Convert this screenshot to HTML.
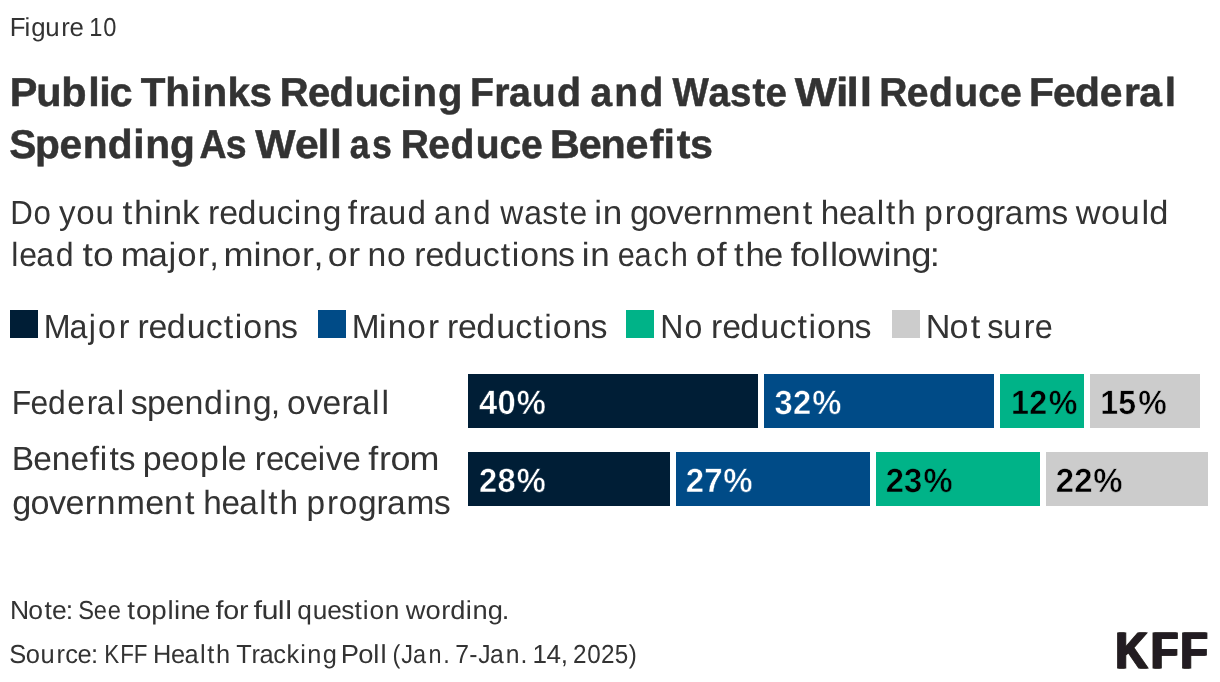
<!DOCTYPE html>
<html lang="en"><head><meta charset="utf-8"><title>Public Thinks Reducing Fraud and Waste Will Reduce Federal Spending As Well as Reduce Benefits</title>
<style>
html,body{margin:0;padding:0;background:#fff}
body{width:1220px;height:682px;position:relative;overflow:hidden;font-family:"Liberation Sans",sans-serif;color:#333}
.b{position:absolute}
svg{position:absolute;left:0;top:0;display:block}
text{font-family:"Liberation Sans",sans-serif;white-space:pre;text-rendering:geometricPrecision}
</style></head><body>
<div class="b" style="left:10px;top:310px;width:28px;height:28px;background:#001e36"></div>
<div class="b" style="left:318px;top:310px;width:28px;height:28px;background:#004b87"></div>
<div class="b" style="left:626px;top:310px;width:28px;height:28px;background:#00b388"></div>
<div class="b" style="left:892px;top:310px;width:28px;height:28px;background:#cccccc"></div>
<div class="b" style="left:468px;top:374px;width:290px;height:54px;background:#001e36"></div>
<div class="b" style="left:764px;top:374px;width:230px;height:54px;background:#004b87"></div>
<div class="b" style="left:1000px;top:374px;width:84px;height:54px;background:#00b388"></div>
<div class="b" style="left:1090px;top:374px;width:110px;height:54px;background:#cccccc"></div>
<div class="b" style="left:468px;top:452px;width:202px;height:54px;background:#001e36"></div>
<div class="b" style="left:676px;top:452px;width:194px;height:54px;background:#004b87"></div>
<div class="b" style="left:876px;top:452px;width:164px;height:54px;background:#00b388"></div>
<div class="b" style="left:1046px;top:452px;width:162px;height:54px;background:#cccccc"></div>
<svg width="1220" height="682" viewBox="0 0 1220 682">
<g font-size="26.04" font-weight="400" fill="#333333">
<text transform="translate(9.67 35.8) scale(0.9917 1)" x="0.00 15.07 21.86 35.82 51.93 60.37">Figure</text>
<text transform="translate(89.35 35.8) scale(0.9093 1)" x="0.00 15.35">10</text>
</g>
<g font-size="40.26" font-weight="700" fill="#333333" stroke="#333333" stroke-width="0.5">
<text transform="translate(9.84 105.8) scale(1.0292 1)" x="0.00 25.69 49.92 76.08 86.95 96.81">Public</text>
<text transform="translate(140.81 105.8) scale(1.0040 1)" x="0.00 24.30 49.61 61.50 86.26 108.24">Thinks</text>
<text transform="translate(279.69 105.8) scale(0.9953 1)" x="0.00 28.35 50.02 75.30 99.39 121.38 133.42 159.10">Reducing</text>
<text transform="translate(469.88 105.8) scale(0.9758 1)" x="0.00 24.87 40.00 63.35 89.24">Fraud</text>
<text transform="translate(590.42 105.8) scale(0.9659 1)" x="0.00 24.56 50.80">and</text>
<text transform="translate(672.46 105.8) scale(0.9562 1)" x="0.00 37.63 60.20 83.74 97.34">Waste</text>
<text transform="translate(794.79 105.8) scale(1.1073 1)" x="0.00 37.14 46.68 58.74">Will</text>
<text transform="translate(879.23 105.8) scale(0.9704 1)" x="0.00 28.35 51.38 77.31 102.00 124.33">Reduce</text>
<text transform="translate(1029.10 105.8) scale(1.0140 1)" x="0.00 23.68 45.16 69.76 93.52 108.74 133.90">Federal</text>
</g>
<g font-size="40.26" font-weight="700" fill="#333333" stroke="#333333" stroke-width="0.5">
<text transform="translate(9.23 157.9) scale(1.0105 1)" x="0.00 25.59 49.87 72.66 97.50 122.77 134.53 159.11">Spending</text>
<text transform="translate(199.46 157.9) scale(0.9304 1)" x="0.00 28.33">As</text>
<text transform="translate(255.17 157.9) scale(1.0618 1)" x="0.00 37.52 58.65 70.55">Well</text>
<text transform="translate(349.81 157.9) scale(0.8857 1)" x="0.00 25.18">as</text>
<text transform="translate(400.63 157.9) scale(0.9704 1)" x="0.00 28.35 51.38 77.31 102.00 124.00">Reduce</text>
<text transform="translate(549.93 157.9) scale(1.0258 1)" x="0.00 28.05 49.28 73.60 97.28 110.79 123.67 136.51">Benefits</text>
</g>
<g font-size="33.48" font-weight="400" fill="#333333">
<text transform="translate(10.30 224) scale(0.9339 1)" x="0.00 24.92">Do</text>
<text transform="translate(59.09 224) scale(0.9883 1)" x="0.00 17.33 36.84">you</text>
<text transform="translate(122.62 224) scale(1.0554 1)" x="0.00 10.83 29.80 37.82 56.35">think</text>
<text transform="translate(208.12 224) scale(1.0160 1)" x="0.00 10.98 28.83 48.45 67.31 84.28 92.83 112.53">reducing</text>
<text transform="translate(347.86 224) scale(0.9915 1)" x="0.00 10.87 21.42 40.26 60.14">fraud</text>
<text transform="translate(434.05 224) scale(0.9263 1)" x="0.00 21.02 42.41">and</text>
<text transform="translate(500.24 224) scale(0.9525 1)" x="0.00 25.09 44.24 62.31 72.70">waste</text>
<text transform="translate(594.16 224) scale(1.0460 1)" x="0.00 8.15">in</text>
<text transform="translate(629.96 224) scale(1.0209 1)" x="0.00 17.65 35.81 52.09 70.94 82.39 102.04 130.11 148.41 169.21">government</text>
<text transform="translate(820.73 224) scale(0.9960 1)" x="0.00 18.40 36.15 56.35 65.45 76.71">health</text>
<text transform="translate(924.19 224) scale(0.9982 1)" x="0.00 20.52 32.13 51.60 70.04 80.60 99.97 127.59">programs</text>
<text transform="translate(1075.70 224) scale(1.0287 1)" x="0.00 24.66 43.44 63.85 71.40">would</text>
</g>
<g font-size="33.48" font-weight="400" fill="#333333">
<text transform="translate(11.30 266) scale(0.9578 1)" x="0.00 8.31 26.06 46.37">lead</text>
<text transform="translate(82.50 266) scale(1.1131 1)" x="0.00 9.51">to</text>
<text transform="translate(120.69 266) scale(1.0394 1)" x="0.00 26.80 45.96 54.39 74.15 85.19">major,</text>
<text transform="translate(223.52 266) scale(1.0783 1)" x="0.00 27.80 35.54 53.64 72.79 83.47">minor,</text>
<text transform="translate(327.73 266) scale(1.0694 1)" x="0.00 19.29">or</text>
<text transform="translate(367.59 266) scale(1.0065 1)" x="0.00 19.40">no</text>
<text transform="translate(414.35 266) scale(1.0132 1)" x="0.00 11.03 28.93 48.60 67.50 85.31 96.17 104.59 123.98 141.67">reductions</text>
<text transform="translate(581.79 266) scale(1.0460 1)" x="0.00 8.15">in</text>
<text transform="translate(617.67 266) scale(0.9186 1)" x="0.00 18.43 38.88 57.78">each</text>
<text transform="translate(695.82 266) scale(1.0866 1)" x="0.00 19.05">of</text>
<text transform="translate(733.92 266) scale(1.0361 1)" x="0.00 11.16 28.97">the</text>
<text transform="translate(790.43 266) scale(1.0859 1)" x="0.00 8.89 28.03 36.48 43.34 61.55 85.75 93.39 111.34 128.39">following:</text>
</g>
<g font-size="33.48" font-weight="400" fill="#333333">
<text transform="translate(43.87 338) scale(0.9624 1)" x="0.00 26.64 46.59 56.26 77.78">Major</text>
<text transform="translate(137.40 338) scale(1.0132 1)" x="0.00 11.03 28.93 48.60 67.50 85.31 96.17 104.59 123.98 141.67">reductions</text>
</g>
<g font-size="33.48" font-weight="400" fill="#333333">
<text transform="translate(351.84 338) scale(0.9967 1)" x="0.00 27.14 35.96 55.55 76.36">Minor</text>
<text transform="translate(446.91 338) scale(1.0132 1)" x="0.00 11.03 28.93 48.60 67.50 85.31 96.17 104.59 123.98 141.67">reductions</text>
</g>
<g font-size="33.48" font-weight="400" fill="#333333">
<text transform="translate(660.32 338) scale(0.9577 1)" x="0.00 25.15">No</text>
<text transform="translate(710.99 338) scale(1.0132 1)" x="0.00 11.03 28.93 48.60 67.50 85.31 96.17 104.59 123.98 141.67">reductions</text>
</g>
<g font-size="33.48" font-weight="400" fill="#333333">
<text transform="translate(925.86 338) scale(1.0206 1)" x="0.00 23.22 44.01">Not</text>
<text transform="translate(987.34 338) scale(0.9700 1)" x="0.00 16.45 37.55 48.80">sure</text>
</g>
<g font-size="33.48" font-weight="400" fill="#333333">
<text transform="translate(11.75 413.7) scale(0.9512 1)" x="0.00 19.62 38.12 58.48 78.73 89.29 110.77">Federal</text>
<text transform="translate(130.73 413.7) scale(1.0158 1)" x="0.00 16.01 34.57 52.97 72.17 92.19 100.74 120.24 137.74">spending,</text>
<text transform="translate(286.90 413.7) scale(1.0077 1)" x="0.00 19.03 35.33 54.08 64.64 84.35 93.93">overall</text>
</g>
<g font-size="33.48" font-weight="400" fill="#333333">
<text transform="translate(11.84 470) scale(1.0017 1)" x="0.00 21.37 39.73 58.56 77.85 87.71 97.38 106.81">Benefits</text>
<text transform="translate(142.73 470) scale(1.0142 1)" x="0.00 18.60 36.86 56.55 77.05 83.93">people</text>
<text transform="translate(254.63 470) scale(0.9844 1)" x="0.00 11.49 29.42 45.94 64.14 72.54 89.23">receive</text>
<text transform="translate(368.24 470) scale(1.0728 1)" x="0.00 10.05 20.65 38.54">from</text>
</g>
<g font-size="33.48" font-weight="400" fill="#333333">
<text transform="translate(12.37 514) scale(1.0209 1)" x="0.00 17.65 35.81 52.09 70.94 82.39 102.04 130.11 148.41 169.21">government</text>
<text transform="translate(203.14 514) scale(0.9960 1)" x="0.00 18.40 36.15 56.35 65.45 76.71">health</text>
<text transform="translate(306.60 514) scale(0.9982 1)" x="0.00 20.52 32.13 51.60 70.04 80.60 99.97 127.59">programs</text>
</g>
<g font-size="33.66" font-weight="700" fill="#ffffff" stroke="#001e36" stroke-width="0.5">
<text transform="translate(479.00 414) scale(0.9726 1)" x="0.00 19.14 38.78">40%</text>
</g>
<g font-size="33.66" font-weight="700" fill="#ffffff" stroke="#004b87" stroke-width="0.5">
<text transform="translate(774.49 414) scale(0.9734 1)" x="0.00 19.01 38.74">32%</text>
</g>
<g font-size="33.66" font-weight="700" fill="#000000" stroke="#00b388" stroke-width="0.5">
<text transform="translate(1011.03 414) scale(0.9569 1)" x="0.00 19.15 39.43">12%</text>
</g>
<g font-size="33.66" font-weight="700" fill="#000000" stroke="#cccccc" stroke-width="0.5">
<text transform="translate(1100.35 414) scale(0.9534 1)" x="0.00 18.81 39.64">15%</text>
</g>
<g font-size="33.66" font-weight="700" fill="#ffffff" stroke="#001e36" stroke-width="0.5">
<text transform="translate(479.10 492) scale(0.9703 1)" x="0.00 19.08 38.82">28%</text>
</g>
<g font-size="33.66" font-weight="700" fill="#ffffff" stroke="#004b87" stroke-width="0.5">
<text transform="translate(685.74 492) scale(0.9811 1)" x="0.00 18.88 38.21">27%</text>
</g>
<g font-size="33.66" font-weight="700" fill="#000000" stroke="#00b388" stroke-width="0.5">
<text transform="translate(885.78 492) scale(0.9734 1)" x="0.00 18.76 38.65">23%</text>
</g>
<g font-size="33.66" font-weight="700" fill="#000000" stroke="#cccccc" stroke-width="0.5">
<text transform="translate(1055.76 492) scale(0.9781 1)" x="0.00 18.81 38.38">22%</text>
</g>
<g font-size="26.04" font-weight="400" fill="#333333">
<text transform="translate(9.90 619.3) scale(1.0184 1)" x="0.00 18.10 33.88 41.31 54.87">Note:</text>
<text transform="translate(78.22 619.3) scale(0.9084 1)" x="0.00 17.15 32.56">See</text>
<text transform="translate(127.27 619.3) scale(1.0647 1)" x="0.00 8.22 22.44 37.85 43.86 49.91 63.55">topline</text>
<text transform="translate(215.59 619.3) scale(1.1030 1)" x="0.00 6.92 21.22">for</text>
<text transform="translate(253.44 619.3) scale(1.1800 1)" x="0.00 6.74 20.70 26.97">full</text>
<text transform="translate(297.22 619.3) scale(1.0092 1)" x="0.00 15.39 29.74 43.65 56.78 64.97 71.57 86.67">question</text>
<text transform="translate(405.71 619.3) scale(1.0474 1)" x="0.00 18.79 33.96 42.46 57.41 63.73 78.39 91.65">wording.</text>
</g>
<g font-size="26.04" font-weight="400" fill="#333333">
<text transform="translate(9.33 663.2) scale(0.9789 1)" x="0.00 16.68 31.93 48.22 57.06 69.70 83.47">Source:</text>
<text transform="translate(104.28 663.2) scale(0.8610 1)" x="0.00 18.41 34.37">KFF</text>
<text transform="translate(153.09 663.2) scale(0.9759 1)" x="0.00 18.31 32.12 48.20 55.44 64.51">Health</text>
<text transform="translate(236.19 663.2) scale(0.9756 1)" x="0.00 15.73 23.94 38.09 51.65 65.74 72.85 88.81">Tracking</text>
<text transform="translate(340.69 663.2) scale(1.0511 1)" x="0.00 16.63 30.86 37.98">Poll</text>
<text transform="translate(392.44 663.2) scale(0.9011 1)" x="0.00 9.65 22.78 40.05 56.27">(Jan.</text>
<text transform="translate(455.24 663.2) scale(0.9481 1)" x="0.00 14.91 24.35 36.73 53.17 68.74">7-Jan.</text>
<text transform="translate(532.45 663.2) scale(1.0016 1)" x="0.00 13.92 28.25">14,</text>
<text transform="translate(573.04 663.2) scale(0.9325 1)" x="0.00 15.19 29.99 44.71 59.68">2025)</text>
</g>
<defs><filter id="hx" x="-20%" y="-20%" width="140%" height="140%"><feOffset in="SourceGraphic" dx="1" result="a"/><feOffset in="SourceGraphic" dx="-1" result="b"/><feMerge><feMergeNode in="a"/><feMergeNode in="b"/><feMergeNode in="SourceGraphic"/></feMerge></filter></defs>
<g class="kff" filter="url(#hx)" font-size="51.0" font-weight="700" fill="#231f20" stroke="#231f20" stroke-width="0.9" stroke-linejoin="miter"><text transform="translate(1115.40 667.75) scale(0.87 1)" x="0.00 41.01 74.74">KFF</text></g>
</svg></body></html>
